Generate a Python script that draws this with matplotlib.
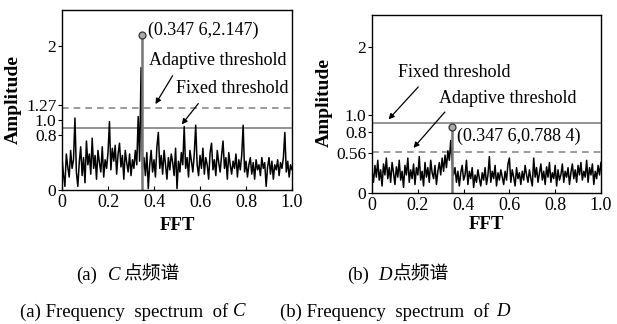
import numpy as np
import matplotlib
matplotlib.use("Agg")
import matplotlib.pyplot as plt

plt.rcParams['font.family'] = ['Liberation Serif', 'Noto Sans CJK SC']
plt.rcParams['font.size'] = 13

# spectrum of point C (x = 0..1)
amp_c = [0.45, 0.22, 0.05, 0.50, 0.32, 0.18, 0.55, 0.30, 0.42, 1.00,
         0.25, 0.05, 0.38, 0.60, 0.20, 0.45, 0.10, 0.68, 0.35, 0.50,
         0.22, 0.72, 0.30, 0.48, 0.15, 0.55, 0.38, 0.25, 0.60, 0.18,
         0.42, 0.30, 0.52, 0.95, 0.28, 0.58, 0.40, 0.62, 0.22, 0.50,
         0.65, 0.32, 0.48, 0.15, 0.55, 0.38, 0.25, 0.50, 0.20, 0.42,
         0.30, 0.55, 0.35, 1.02, 0.40, 1.70, 0.30, 0.45, 0.20, 0.52,
         0.02, 0.35, 0.55, 0.25, 0.42, 0.18, 0.60, 0.80, 0.30, 0.48,
         0.22, 0.55, 0.35, 0.15, 0.45, 0.28, 0.50, 0.38, 0.20, 0.58,
         0.02, 0.40, 0.25, 0.52, 0.35, 0.88, 0.30, 0.45, 0.18, 0.55,
         0.40, 0.25, 0.50, 0.90, 0.35, 0.20, 0.48, 0.30, 0.58, 0.22,
         0.45, 0.35, 0.15, 0.52, 0.65, 0.28, 0.42, 0.20, 0.55, 0.38,
         0.25, 0.48, 0.68, 0.30, 0.45, 0.15, 0.52, 0.35, 0.22, 0.40,
         0.30, 0.50, 0.18, 0.42, 0.28, 0.48, 0.90, 0.25, 0.40, 0.18,
         0.35, 0.45, 0.22, 0.38, 0.15, 0.42, 0.28, 0.35, 0.20, 0.45,
         0.30, 0.38, 0.05, 0.32, 0.45, 0.22, 0.40, 0.15, 0.35, 0.28,
         0.42, 0.20, 0.38, 0.30, 0.45, 0.80, 0.25, 0.40, 0.18, 0.35,
         0.28]

# spectrum of point D
amp_d = [0.30, 0.15, 0.38, 0.22, 0.45, 0.18, 0.32, 0.10, 0.40, 0.25,
         0.48, 0.20, 0.35, 0.15, 0.42, 0.28, 0.12, 0.36, 0.22, 0.45,
         0.18, 0.30, 0.08, 0.38, 0.25, 0.48, 0.15, 0.32, 0.20, 0.40,
         0.12, 0.35, 0.25, 0.50, 0.18, 0.30, 0.10, 0.42, 0.22, 0.35,
         0.15, 0.45, 0.28, 0.20, 0.38, 0.12, 0.30, 0.42, 0.25, 0.48,
         0.30, 0.52, 0.35, 0.58, 0.45, 0.72, 0.40, 0.25, 0.35, 0.15,
         0.30, 0.10, 0.28, 0.38, 0.18, 0.25, 0.45, 0.12, 0.30, 0.20,
         0.35, 0.08, 0.25, 0.15, 0.32, 0.20, 0.10, 0.28, 0.18, 0.35,
         0.12, 0.25, 0.50, 0.15, 0.30, 0.20, 0.38, 0.10, 0.28, 0.18,
         0.32, 0.22, 0.12, 0.30, 0.18, 0.40, 0.48, 0.15, 0.32, 0.22,
         0.10, 0.35, 0.20, 0.28, 0.12, 0.30, 0.18, 0.38, 0.25, 0.15,
         0.32, 0.20, 0.10, 0.48, 0.22, 0.35, 0.15, 0.28, 0.40, 0.18,
         0.30, 0.12, 0.36, 0.22, 0.42, 0.15, 0.28, 0.20, 0.38, 0.10,
         0.32, 0.18, 0.25, 0.40, 0.15, 0.30, 0.22, 0.35, 0.12, 0.28,
         0.40, 0.20, 0.32, 0.15, 0.38, 0.25, 0.42, 0.18, 0.30, 0.22,
         0.45, 0.15, 0.35, 0.25, 0.40, 0.12, 0.30, 0.20, 0.38, 0.25,
         0.42]

peak_x = 0.3476
peak_c = 2.147
peak_d = 0.7884

# thresholds / ticks, placed where the original draws them
fixed_c, adapt_c = 0.86, 1.14
fixed_d, adapt_d = 0.955, 0.568
yt_c = [0, 0.76, 0.975, 1.18, 2]
yl_c = ['0', '0.8', '1.0', '1.27', '2']
yt_d = [0, 0.84, 1.065, 0.55, 2]
yl_d = ['0', '0.8', '1.0', '0.56', '2']
xt = [0, 0.2, 0.4, 0.6, 0.8, 1.0]
xl = ['0', '0.2', '0.4', '0.6', '0.8', '1.0']

fig = plt.figure(figsize=(6.17, 3.24), dpi=100)
ax1 = fig.add_axes([0.1005, 0.4136, 0.3728, 0.5556])
ax2 = fig.add_axes([0.603, 0.4034, 0.371, 0.5503])


def panel(ax, amp, peak, mark_y, fixed, adapt, yt, yl, ymax):
    f = np.linspace(0, 1, len(amp))
    ax.axhline(fixed, color='#8a8a8a', lw=1.3)
    ax.axhline(adapt, color='#8a8a8a', lw=1.2, ls=(0, (4, 3)))
    ax.plot(f, amp, color='black', lw=1.1)
    ax.vlines(peak_x, 0, mark_y, color='#777777', lw=1.8)
    ax.plot([peak_x], [mark_y], 'o', ms=5, mfc='#aaaaaa', mec='#333333', mew=0.9)
    ax.set_xlim(0, 1)
    ax.set_ylim(0, ymax)
    ax.set_xticks(xt)
    ax.set_xticklabels(xl)
    ax.set_yticks(yt)
    ax.set_yticklabels(yl)
    ax.tick_params(axis='x', direction='in', length=3, width=0.8, pad=3, labelsize=13)
    ax.tick_params(axis='y', direction='out', length=3, width=0.8, pad=1, labelsize=12.5)
    for s in ax.spines.values():
        s.set_linewidth(1.0)
    ax.set_xlabel('FFT', fontweight='bold', fontsize=13.5)
    ax.set_ylabel('Amplitude', fontweight='bold', fontsize=14)


panel(ax1, amp_c, peak_c, 2.15, fixed_c, adapt_c, yt_c, yl_c, 2.5)
ax1.yaxis.set_label_coords(-0.175, 0.5)
ax1.xaxis.set_label_coords(0.5, -0.15)
ax1.text(0.372, 2.22, '(0.347 6,2.147)', va='center', ha='left')
ax1.text(0.38, 1.8, 'Adaptive threshold', va='center', ha='left')
ax1.text(0.495, 1.41, 'Fixed threshold', va='center', ha='left')
ax1.annotate('', xy=(0.40, 1.16), xytext=(0.487, 1.62),
             arrowprops=dict(arrowstyle='-|>', color='black', lw=0.9, mutation_scale=8))
ax1.annotate('', xy=(0.513, 0.88), xytext=(0.60, 1.23),
             arrowprops=dict(arrowstyle='-|>', color='black', lw=0.9, mutation_scale=8))

panel(ax2, amp_d, peak_d, 0.91, fixed_d, adapt_d, yt_d, yl_d, 2.43)
ax2.yaxis.set_label_coords(-0.172, 0.51)
ax2.xaxis.set_label_coords(0.5, -0.13)
ax2.text(0.37, 0.78, '(0.347 6,0.788 4)', va='center', ha='left')
ax2.text(0.115, 1.645, 'Fixed threshold', va='center', ha='left')
ax2.text(0.294, 1.296, 'Adaptive threshold', va='center', ha='left')
ax2.annotate('', xy=(0.064, 0.98), xytext=(0.21, 1.477),
             arrowprops=dict(arrowstyle='-|>', color='black', lw=0.9, mutation_scale=8))
ax2.annotate('', xy=(0.173, 0.59), xytext=(0.326, 1.136),
             arrowprops=dict(arrowstyle='-|>', color='black', lw=0.9, mutation_scale=8))

# captions
W, H = 617.0, 324.0
cap = dict(fontsize=13.5, va='center', ha='left')
fig.text(76 / W, 1 - 275 / H, '(a)', **cap)
fig.text(108 / W, 1 - 275 / H, 'C', style='italic', **cap)
fig.text(123 / W, 1 - 275 / H, '点频谱', **cap)
fig.text(347 / W, 1 - 275 / H, '(b)', **cap)
fig.text(378 / W, 1 - 275 / H, 'D', style='italic', **cap)
fig.text(392 / W, 1 - 275 / H, '点频谱', **cap)
fig.text(20 / W, 1 - 312 / H, '(a) Frequency  spectrum  of', **cap)
fig.text(233 / W, 1 - 312 / H, 'C', style='italic', **cap)
fig.text(280 / W, 1 - 312 / H, '(b) Frequency  spectrum  of', **cap)
fig.text(496 / W, 1 - 312 / H, 'D', style='italic', **cap)

fig.savefig('out.png', dpi=100)
